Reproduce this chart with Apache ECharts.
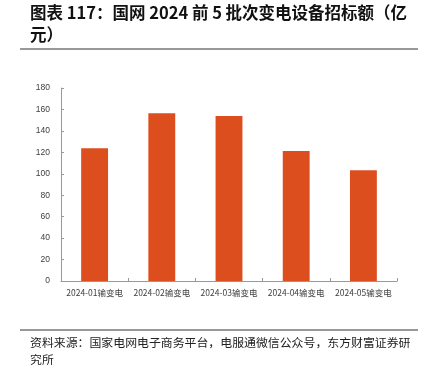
<!DOCTYPE html>
<html>
<head>
<meta charset="utf-8">
<script src="https://cdn.jsdelivr.net/npm/echarts@6/dist/echarts.min.js"></script>
<style>
html,body{margin:0;padding:0;background:#fff;}
#c{width:425px;height:370px;}
</style>
</head>
<body>
<div id="c"></div>
<script>
const titleText = "图表 117：国网 2024 前 5 批次变电设备招标额（亿\n元）";
const sourceText = "资料来源：国家电网电子商务平台，电服通微信公众号，东方财富证券研\n究所";
const categories = ["2024-01输变电", "2024-02输变电", "2024-03输变电", "2024-04输变电", "2024-05输变电"];
const values = [123.8, 156.4, 153.9, 121.2, 103.2];
const yTicks = [0, 20, 40, 60, 80, 100, 120, 140, 160, 180];

const chart = echarts.init(document.getElementById('c'), null, {renderer: 'canvas'});
const axisColor = '#999999';
const labelColor = '#404040';
chart.setOption({
  animation: false,
  backgroundColor: '#ffffff',
  grid: {left: 61, right: 28, top: 88, bottom: 89, containLabel: false},
  xAxis: {
    type: 'category',
    data: categories,
    axisLine: {lineStyle: {color: axisColor, width: 1}},
    axisTick: {show: true, inside: true, length: 3, lineStyle: {color: axisColor}},
    axisLabel: {color: labelColor, fontSize: 8.5, margin: 8, fontFamily: '"Noto Sans CJK SC", sans-serif', interval: 0}
  },
  yAxis: {
    type: 'value',
    min: yTicks[0],
    max: yTicks[yTicks.length - 1],
    interval: yTicks[1] - yTicks[0],
    axisLine: {show: true, lineStyle: {color: axisColor, width: 1}},
    axisTick: {show: true, inside: true, length: 3, lineStyle: {color: axisColor}},
    splitLine: {show: false},
    axisLabel: {color: labelColor, fontSize: 8.5, margin: 11, fontFamily: 'Arial, "Liberation Sans", sans-serif'}
  },
  series: [{
    type: 'bar',
    data: values,
    barWidth: '40%',
    itemStyle: {color: '#DD4E1F'}
  }],
  graphic: [
    {type: 'text', left: 30, top: 2, style: {text: titleText, font: 'bold 16.5px "Noto Sans CJK SC", sans-serif', fill: '#111', lineHeight: 22}},
    {type: 'line', shape: {x1: 20, y1: 49, x2: 418, y2: 49}, style: {stroke: '#333', lineWidth: 1}},
    {type: 'line', shape: {x1: 20, y1: 330, x2: 418, y2: 330}, style: {stroke: '#333', lineWidth: 1}},
    {type: 'text', left: 30, top: 334, style: {text: sourceText, font: '11.9px "Noto Sans CJK SC", sans-serif', fill: '#222', lineHeight: 17}}
  ]
});
</script>
</body>
</html>
